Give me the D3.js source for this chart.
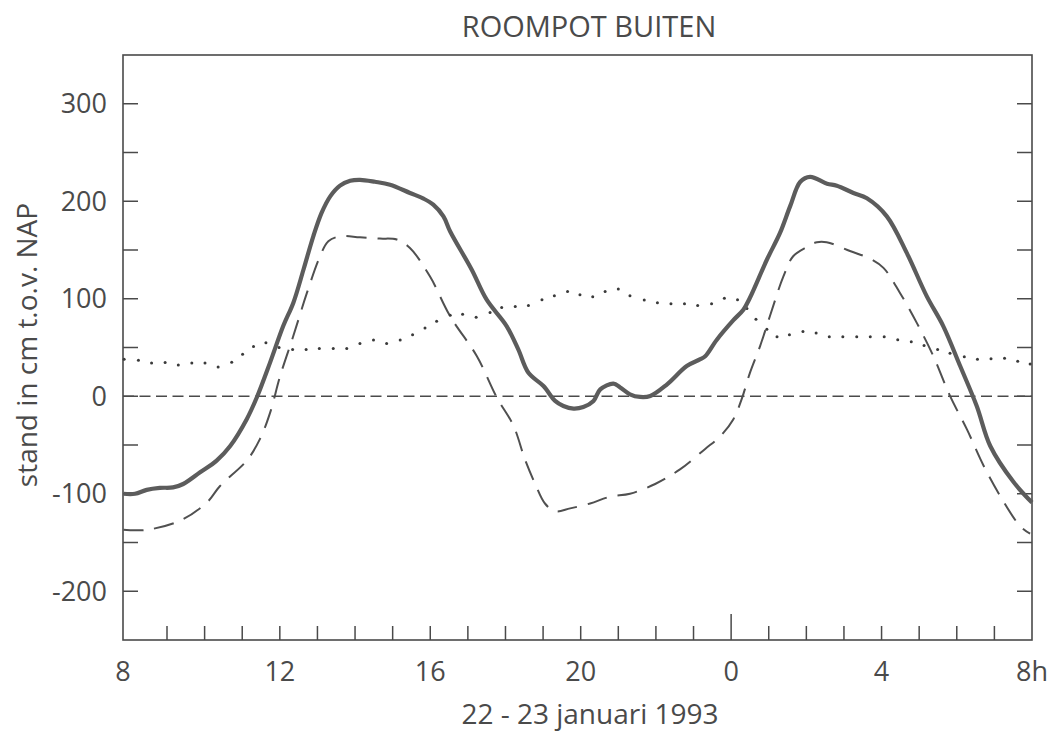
<!DOCTYPE html>
<html>
<head>
<meta charset="utf-8">
<script src="https://cdn.jsdelivr.net/npm/d3@7"></script>
<style>
  body { margin: 0; background: #fff; }
  text { font-family: "Open Sans", "Noto Sans", sans-serif; fill: #4a4a4a; }
</style>
</head>
<body>
<svg id="chart" width="1059" height="734"></svg>
<script>
// hours since midnight 22 jan (32 = 8h on 23 jan)
const gemetenUur = [7.84, 8.15, 8.46, 8.81, 9.16, 9.43, 9.88, 10.32, 10.68, 11.12, 11.39, 11.74, 12.09, 12.36, 12.63, 12.89, 13.11, 13.34, 13.6, 13.87, 14.13, 14.53, 14.93, 15.46, 15.82, 16.08, 16.35, 16.53, 17.1, 17.5, 18.03, 18.34, 18.61, 19.01, 19.32, 19.54, 19.81, 20.07, 20.34, 20.52, 20.87, 21.05, 21.31, 21.58, 21.85, 22.29, 22.82, 23.18, 23.31, 23.62, 24.06, 24.33, 24.5, 24.95, 25.3, 25.57, 25.84, 26.1, 26.55, 26.81, 27.25, 27.61, 28.14, 28.67, 29.2, 29.64, 30.09, 30.53, 30.89, 31.51, 32];
const gemeten = [-100, -100, -96, -94, -93.5, -90, -78, -66, -51, -23.5, -1, 34.5, 72, 96, 130, 164, 188, 205, 216, 221, 222, 220, 217, 208.5, 202.7, 196.5, 184.5, 169, 130, 99, 72, 48, 24, 10.5, -4.8, -10, -12.6, -11, -4.8, 7, 13, 9, 2, -0.7, 0.3, 12, 31, 38, 41, 58, 78, 89, 101, 140, 167.5, 195, 220, 225, 218, 216, 208.5, 203, 184.5, 147, 102.7, 72, 31, -10, -51, -88, -109];

const astroUur = [7.84, 8.46, 9.35, 10.06, 10.41, 11.12, 11.47, 11.74, 12.01, 12.36, 12.72, 13.07, 13.29, 13.6, 14.13, 14.66, 15.11, 15.46, 15.99, 16.53, 17.24, 17.77, 18.21, 18.52, 18.79, 19.05, 19.32, 19.72, 20.25, 20.78, 21.31, 21.98, 22.64, 23.31, 23.71, 24.06, 24.28, 24.5, 24.77, 25.03, 25.39, 25.65, 26.01, 26.28, 26.54, 27.16, 27.7, 28.05, 28.49, 28.94, 29.38, 29.82, 30.27, 30.71, 31.15, 31.68, 31.95];
const astro = [-137, -137, -127.6, -109, -92, -66, -44, -17, 21, 62, 106, 143.6, 159, 164, 163, 161.7, 160.7, 152, 123, 82, 41, -1.3, -30, -65, -90, -110, -118, -115, -110, -103, -100, -90, -75, -54, -41, -23.5, -3, 24, 51.5, 82, 123, 143.6, 153, 158, 158, 149, 141, 131.7, 106, 75, 41, 0.3, -34, -71, -102, -133, -141];

const opzetUur = [7.86, 8.24, 8.59, 8.95, 9.3, 9.66, 10.01, 10.36, 10.72, 11.01, 11.3, 11.63, 11.98, 12.34, 12.7, 13.05, 13.42, 13.78, 14.13, 14.49, 14.84, 15.2, 15.53, 15.86, 16.17, 16.53, 16.86, 17.22, 17.59, 17.9, 18.26, 18.61, 18.97, 19.3, 19.65, 19.98, 20.32, 20.65, 21, 21.31, 21.69, 22.04, 22.4, 22.76, 23.11, 23.48, 23.82, 24.17, 24.42, 24.66, 24.95, 25.22, 25.55, 25.91, 26.26, 26.61, 26.97, 27.34, 27.7, 28.07, 28.43, 28.79, 29.13, 29.49, 29.82, 30.2, 30.55, 30.91, 31.27, 31.62, 31.95];
const opzet = [38, 37, 34, 34.5, 32, 34, 34, 30, 35, 43, 51, 55, 50, 48, 48, 49, 49, 49, 54, 57.6, 54, 57.6, 63, 70, 77, 83, 84, 81, 86, 91, 92, 93, 99, 103, 107.5, 104, 102, 107.5, 110, 103, 98.6, 96, 95, 95, 93, 95, 100.5, 99, 90, 79, 68.6, 61, 63, 66.5, 65, 61, 61, 61, 61, 61, 58, 56, 52, 48, 44, 40.6, 38, 38.5, 39, 36, 33];

const yTicks = [-200, -150, -100, -50, 0, 50, 100, 150, 200, 250, 300];
const yLabels = [-200, -100, 0, 100, 200, 300];
const xLabelUur = [8, 12, 16, 20, 24, 28, 32];
const xLabelTekst = ["8", "12", "16", "20", "0", "4", "8h"];
const xTicks = d3.range(9, 32);

const width = 1059, height = 734;
const margin = {top: 55, right: 27, bottom: 94, left: 123};
const ink = "#4a4a4a";

const svg = d3.select("#chart");

const x = d3.scaleLinear()
    .domain([7.83, 32])
    .range([margin.left, width - margin.right]);

const y = d3.scaleLinear()
    .domain([-250, 350])
    .range([height - margin.bottom, margin.top]);

// frame
svg.append("rect")
    .attr("x", margin.left)
    .attr("y", margin.top)
    .attr("width", width - margin.left - margin.right)
    .attr("height", height - margin.top - margin.bottom)
    .attr("fill", "none")
    .attr("stroke", ink)
    .attr("stroke-width", 1.6);

// inward ticks, left and right
const tickG = svg.append("g")
    .attr("stroke", ink)
    .attr("stroke-width", 1.5);

tickG.selectAll(".yl")
  .data(yTicks)
  .enter().append("line")
    .attr("x1", margin.left)
    .attr("x2", margin.left + 15)
    .attr("y1", d => y(d))
    .attr("y2", d => y(d));

tickG.selectAll(".yr")
  .data(yTicks)
  .enter().append("line")
    .attr("x1", width - margin.right)
    .attr("x2", width - margin.right - 15)
    .attr("y1", d => y(d))
    .attr("y2", d => y(d));

tickG.selectAll(".xb")
  .data(xTicks)
  .enter().append("line")
    .attr("x1", d => x(d))
    .attr("x2", d => x(d))
    .attr("y1", height - margin.bottom)
    .attr("y2", d => height - margin.bottom - (d === 24 ? 26 : 14));

// labels
svg.append("g").selectAll("text")
  .data(yLabels)
  .enter().append("text")
    .attr("x", margin.left - 16)
    .attr("y", d => y(d))
    .attr("dy", "0.36em")
    .attr("text-anchor", "end")
    .style("font-size", "27px")
    .text(d => d);

svg.append("g").selectAll("text")
  .data(xLabelUur)
  .enter().append("text")
    .attr("x", (d, i) => i === 0 ? margin.left : x(d))
    .attr("y", 681)
    .attr("text-anchor", "middle")
    .style("font-size", "27px")
    .text((d, i) => xLabelTekst[i]);

svg.append("text")
    .attr("x", 589)
    .attr("y", 37)
    .attr("text-anchor", "middle")
    .style("font-size", "29px")
    .text("ROOMPOT BUITEN");

svg.append("text")
    .attr("x", 590)
    .attr("y", 724)
    .attr("text-anchor", "middle")
    .style("font-size", "28px")
    .text("22 - 23 januari 1993");

svg.append("text")
    .attr("transform", "translate(37,345) rotate(-90)")
    .attr("text-anchor", "middle")
    .style("font-size", "28px")
    .text("stand in cm t.o.v. NAP");

// zero line
svg.append("line")
    .attr("x1", margin.left)
    .attr("x2", width - margin.right)
    .attr("y1", y(0))
    .attr("y2", y(0))
    .attr("stroke", ink)
    .attr("stroke-width", 1.5)
    .attr("stroke-dasharray", "11,5.5");

const line = d3.line()
    .x(d => x(d[0]))
    .y(d => y(d[1]))
    .curve(d3.curveCatmullRom.alpha(0.5));

// astronomical tide, long dashes
svg.append("path")
    .datum(d3.zip(astroUur, astro))
    .attr("d", line)
    .attr("fill", "none")
    .attr("stroke", "#505050")
    .attr("stroke-width", 2)
    .attr("stroke-dasharray", "20,11");

// surge, dots
svg.append("g").selectAll("circle")
  .data(d3.zip(opzetUur, opzet))
  .enter().append("circle")
    .attr("cx", d => x(d[0]))
    .attr("cy", d => y(d[1]))
    .attr("r", 1.5)
    .attr("fill", "#3a3a3a");

// measured level
svg.append("path")
    .datum(d3.zip(gemetenUur, gemeten))
    .attr("d", line)
    .attr("fill", "none")
    .attr("stroke", "#5c5c5c")
    .attr("stroke-width", 4.2)
    .attr("stroke-linejoin", "round");
</script>
</body>
</html>
